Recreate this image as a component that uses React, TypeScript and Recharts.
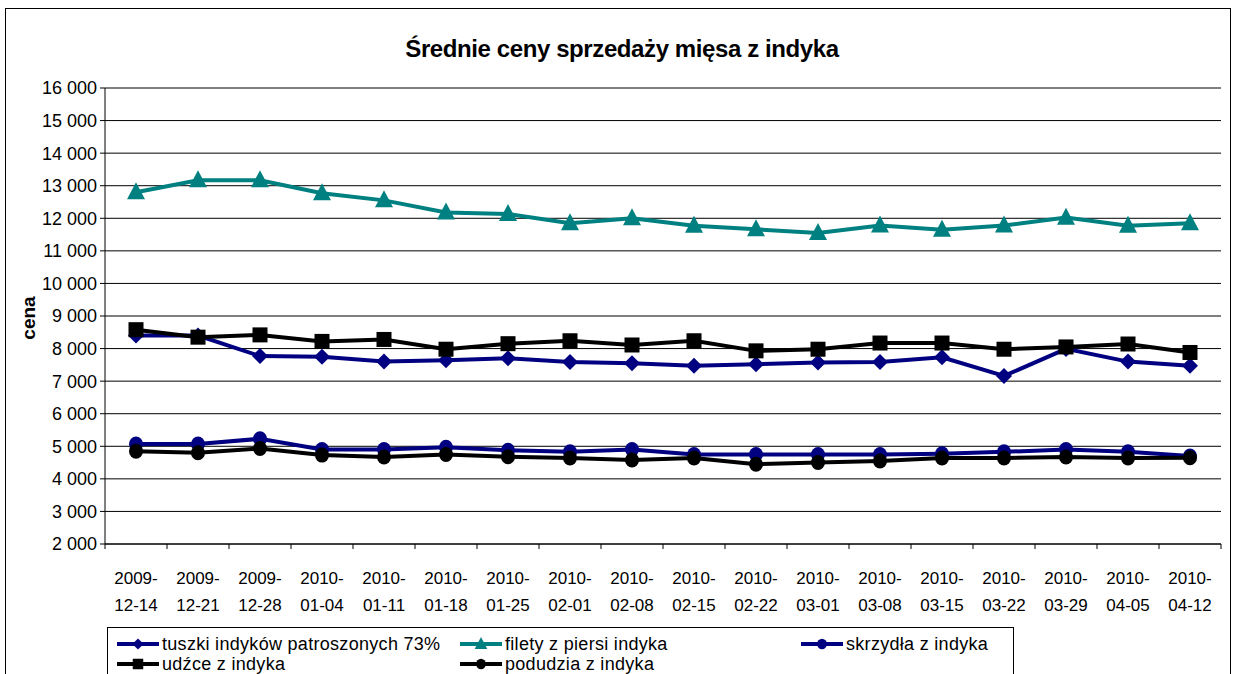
import React from "react"
import { LineChart, Line, XAxis, YAxis, CartesianGrid } from "recharts"

const categories = [
  "2009-12-14", "2009-12-21", "2009-12-28", "2010-01-04", "2010-01-11", "2010-01-18",
  "2010-01-25", "2010-02-01", "2010-02-08", "2010-02-15", "2010-02-22", "2010-03-01",
  "2010-03-08", "2010-03-15", "2010-03-22", "2010-03-29", "2010-04-05", "2010-04-12",
]

const tuszki = [8400, 8400, 7770, 7750, 7600, 7640, 7700, 7590, 7550, 7470, 7520, 7570, 7590, 7730, 7160, 7990, 7600, 7470]
const filety = [12800, 13170, 13170, 12770, 12550, 12180, 12130, 11850, 12000, 11770, 11660, 11550, 11780, 11650, 11780, 12020, 11770, 11850]
const skrzydla = [5070, 5070, 5230, 4900, 4900, 4970, 4880, 4830, 4900, 4750, 4750, 4750, 4750, 4770, 4830, 4900, 4830, 4700]
const udzce = [8580, 8350, 8420, 8220, 8280, 7980, 8150, 8240, 8110, 8240, 7930, 7980, 8170, 8170, 7980, 8050, 8140, 7880]
const podudzia = [4850, 4800, 4930, 4730, 4670, 4750, 4680, 4640, 4580, 4640, 4450, 4500, 4550, 4640, 4640, 4670, 4640, 4650]

const yTicks = [2000, 3000, 4000, 5000, 6000, 7000, 8000, 9000, 10000, 11000, 12000, 13000, 14000, 15000, 16000]

type Shape = "diamond" | "triangle" | "square" | "circle"

const series: { key: string; name: string; color: string; shape: Shape; values: number[] }[] = [
  { key: "tuszki", name: "tuszki indyków  patroszonych 73%", color: "#000080", shape: "diamond", values: tuszki },
  { key: "filety", name: "filety z piersi indyka", color: "#008080", shape: "triangle", values: filety },
  { key: "skrzydla", name: "skrzydła z indyka", color: "#000080", shape: "circle", values: skrzydla },
  { key: "udzce", name: "udźce z indyka", color: "#000000", shape: "square", values: udzce },
  { key: "podudzia", name: "podudzia z indyka", color: "#000000", shape: "circle", values: podudzia },
]

const data = categories.map((c, i) => {
  const row: Record<string, string | number> = { date: c }
  series.forEach((s) => (row[s.key] = s.values[i]))
  return row
})

const FONT = "'Liberation Sans', Arial, sans-serif"

function Marker({ cx, cy, shape, color, s = 1 }: { cx: number; cy: number; shape: Shape; color: string; s?: number }) {
  if (cx == null || cy == null) return null
  if (shape === "diamond") {
    const h = 8 * s
    return <polygon points={`${cx},${cy - h} ${cx + h},${cy} ${cx},${cy + h} ${cx - h},${cy}`} fill={color} />
  }
  if (shape === "triangle") {
    return <polygon points={`${cx},${cy - 10 * s} ${cx + 9 * s},${cy + 7 * s} ${cx - 9 * s},${cy + 7 * s}`} fill={color} />
  }
  if (shape === "square") {
    const h = 7.5 * s
    return <rect x={cx - h} y={cy - h} width={h * 2} height={h * 2} fill={color} />
  }
  return <ellipse cx={cx} cy={cy} rx={7 * s} ry={7.5 * s} fill={color} />
}

const fmt = (v: number) => v.toLocaleString("en-US").replace(",", " ")

function DateTick(props: any) {
  const { x, y, payload, index } = props
  const [yr, ...rest] = String(payload.value).split("-")
  const half = 31
  return (
    <g>
      {index === 0 && <line x1={x - half} y1={y} x2={x - half} y2={y + 5} stroke="#000" />}
      <line x1={x + half} y1={y} x2={x + half} y2={y + 5} stroke="#000" />
      <text x={x} y={y + 40} textAnchor="middle" fontSize={17} fontFamily={FONT} fill="#000">{yr}-</text>
      <text x={x} y={y + 67} textAnchor="middle" fontSize={17} fontFamily={FONT} fill="#000">{rest.join("-")}</text>
    </g>
  )
}

function LegendIcon({ color, shape }: { color: string; shape: Shape }) {
  return (
    <svg width={44} height={14} style={{ verticalAlign: "middle", marginRight: 2 }}>
      <line x1={1} y1={7} x2={43} y2={7} stroke={color} strokeWidth={4} />
      <Marker cx={22} cy={7} shape={shape} color={color} s={0.7} />
    </svg>
  )
}

export default function App() {
  const rows = [
    [series[0], series[1], series[2]],
    [series[3], series[4]],
  ]
  const colX = [0, 343, 684]
  return (
    <div style={{ position: "absolute", left: 0, top: 0, width: 1234, height: 674, background: "#fff", overflow: "hidden" }}>
      <div style={{ position: "absolute", left: 5, top: 8, width: 1224, height: 700, border: "1.5px solid #000" }} />
      <div
        style={{
          position: "absolute", left: 5, top: 35, width: 1234, textAlign: "center",
          fontFamily: FONT, fontWeight: "bold", fontSize: 24, letterSpacing: -0.4,
        }}
      >
        Średnie ceny sprzedaży mięsa z indyka
      </div>
      <div style={{ position: "absolute", left: 0, top: 0 }}>
        <LineChart width={1234} height={674} data={data} margin={{ top: 88, right: 13, bottom: 60, left: 0 }}>
          <CartesianGrid vertical={false} stroke="#000" strokeWidth={1} />
          <XAxis
            dataKey="date"
            scale="band"
            height={70}
            tickLine={false}
            tickSize={0}
            tickMargin={0}
            interval={0}
            axisLine={{ stroke: "#000" }}
            tick={<DateTick />}
          />
          <YAxis
            width={105}
            domain={[2000, 16000]}
            ticks={yTicks}
            interval={0}
            tickFormatter={fmt}
            tickSize={5}
            tickMargin={3}
            axisLine={{ stroke: "#000" }}
            tickLine={{ stroke: "#000" }}
            tick={{ fontSize: 18, fontFamily: FONT, fill: "#000" }}
            label={{
              content: () => (
                <text x={35} y={318} transform="rotate(-90 35 318)" textAnchor="middle" fontSize={19} fontWeight="bold" fontFamily={FONT} fill="#000">
                  cena
                </text>
              ),
            }}
          />
          <YAxis yAxisId="r" orientation="right" width={0} domain={[0, 1]} tick={false} tickLine={false} axisLine={{ stroke: "#888" }} />
          {series.map((s) => (
            <Line
              key={s.key}
              dataKey={s.key}
              name={s.name}
              stroke={s.color}
              strokeWidth={4}
              isAnimationActive={false}
              dot={(p: any) => <Marker key={`${s.key}-${p.index}`} cx={p.cx} cy={p.cy} shape={s.shape} color={s.color} />}
              activeDot={false}
            />
          ))}
        </LineChart>
      </div>
      <div
        style={{
          position: "absolute", left: 107, top: 627, width: 905, height: 60,
          border: "1.5px solid #000", fontFamily: FONT, fontSize: 18, letterSpacing: 0.3,
        }}
      >
        {rows.map((r, ri) => (
          <div key={ri} style={{ position: "absolute", left: 8, top: 5 + ri * 20, height: 20, width: 890 }}>
            {r.map((s, ci) => (
              <div key={s.key} style={{ position: "absolute", left: colX[ci], top: 0, whiteSpace: "nowrap", lineHeight: "20px" }}>
                <LegendIcon color={s.color} shape={s.shape} />
                <span style={{ verticalAlign: "middle" }}>{s.name}</span>
              </div>
            ))}
          </div>
        ))}
      </div>
    </div>
  )
}
